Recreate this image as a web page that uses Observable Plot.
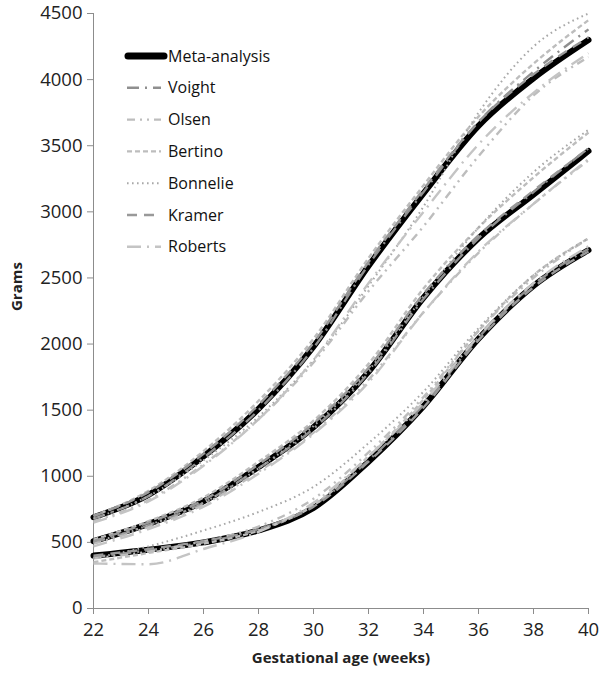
<!DOCTYPE html>
<html><head><meta charset="utf-8">
<script src="https://cdn.jsdelivr.net/npm/d3@7"></script>
<script src="https://cdn.jsdelivr.net/npm/@observablehq/plot@0.6"></script>
<style>
body{margin:0;background:#fff;}
#chart{position:relative;width:600px;height:673px;}
#chart svg{display:block}
#legend{position:absolute;left:0;top:0;pointer-events:none}
</style></head><body><div id="chart"></div>
<script>
// ---- data ----
const weeks = [22, 24, 26, 28, 30, 32, 34, 36, 38, 40];
const xTicks = [22, 24, 26, 28, 30, 32, 34, 36, 38, 40];
const yTicks = [0, 500, 1000, 1500, 2000, 2500, 3000, 3500, 4000, 4500];
const series = ["Meta-analysis", "Voight", "Olsen", "Bertino", "Bonnelie", "Kramer", "Roberts"];
const percentiles = ["p10", "p50", "p90"];

const metaP10 = [400, 445, 500, 590, 760, 1110, 1530, 2040, 2440, 2710];
const metaP50 = [510, 640, 810, 1070, 1370, 1790, 2350, 2800, 3130, 3460];
const metaP90 = [690, 860, 1150, 1510, 1980, 2590, 3140, 3650, 4010, 4300];

const voightP10 = [390, 440, 500, 600, 780, 1120, 1540, 2050, 2450, 2720];
const voightP50 = [500, 630, 800, 1060, 1360, 1780, 2340, 2800, 3150, 3480];
const voightP90 = [680, 850, 1140, 1500, 1970, 2600, 3150, 3680, 4060, 4380];

const olsenP10 = [380, 430, 510, 620, 830, 1180, 1600, 2100, 2500, 2800];
const olsenP50 = [490, 615, 785, 1035, 1330, 1730, 2240, 2690, 3060, 3390];
const olsenP90 = [660, 820, 1090, 1430, 1860, 2400, 2890, 3420, 3880, 4170];

const bertinoP10 = [350, 420, 490, 590, 780, 1150, 1580, 2100, 2520, 2800];
const bertinoP50 = [520, 660, 840, 1110, 1420, 1850, 2420, 2880, 3260, 3600];
const bertinoP90 = [700, 890, 1190, 1570, 2040, 2650, 3200, 3720, 4120, 4450];

const bonnelieP10 = [380, 470, 590, 730, 920, 1250, 1640, 2120, 2520, 2800];
const bonnelieP50 = [500, 630, 800, 1060, 1380, 1800, 2360, 2880, 3300, 3620];
const bonnelieP90 = [680, 850, 1120, 1450, 1880, 2440, 3040, 3750, 4250, 4500];

const kramerP10 = [400, 450, 510, 600, 770, 1110, 1520, 2030, 2430, 2700];
const kramerP50 = [510, 650, 820, 1090, 1400, 1820, 2380, 2820, 3160, 3480];
const kramerP90 = [700, 880, 1170, 1540, 2010, 2620, 3170, 3680, 4040, 4320];

const robertsP10 = [340, 335, 450, 580, 800, 1150, 1560, 2060, 2460, 2740];
const robertsP50 = [470, 600, 770, 1020, 1320, 1710, 2240, 2700, 3060, 3400];
const robertsP90 = [650, 810, 1080, 1430, 1880, 2460, 3000, 3510, 3900, 4200];

const values = {
  "Meta-analysis": [metaP10, metaP50, metaP90],
  "Voight": [voightP10, voightP50, voightP90],
  "Olsen": [olsenP10, olsenP50, olsenP90],
  "Bertino": [bertinoP10, bertinoP50, bertinoP90],
  "Bonnelie": [bonnelieP10, bonnelieP50, bonnelieP90],
  "Kramer": [kramerP10, kramerP50, kramerP90],
  "Roberts": [robertsP10, robertsP50, robertsP90]
};

// ---- styles ----
const styles = {
  "Meta-analysis": {stroke: "#000", width: 6, dash: null},
  "Voight": {stroke: "#8f8f8f", width: 2.4, dash: "12,6,2,6"},
  "Olsen": {stroke: "#bdbdbd", width: 2.4, dash: "8,5,2,5,2,5"},
  "Bertino": {stroke: "#bdbdbd", width: 2.4, dash: "5,3"},
  "Bonnelie": {stroke: "#a8a8a8", width: 2, dash: "1.6,3.4"},
  "Kramer": {stroke: "#999", width: 2.4, dash: "10,7"},
  "Roberts": {stroke: "#c4c4c4", width: 2.4, dash: "14,6,2,6"}
};

const rows = series.flatMap(s => percentiles.flatMap((p, pi) =>
  weeks.map((w, i) => ({series: s, pct: p, key: s + "-" + p, week: w, grams: values[s][pi][i]}))));

const lineMarks = series.map(s => Plot.line(rows.filter(d => d.series === s), {
  x: "week", y: "grams", z: "key", curve: "monotone-x",
  stroke: styles[s].stroke, strokeWidth: styles[s].width,
  strokeDasharray: styles[s].dash, strokeLinecap: s === "Meta-analysis" ? "round" : "butt"
}));

const font = "'Open Sans', 'DejaVu Sans', sans-serif";
const plot = Plot.plot({
  width: 600, height: 673,
  marginLeft: 93, marginRight: 12, marginTop: 13, marginBottom: 65,
  x: {domain: [22, 40]},
  y: {domain: [0, 4500]},
  style: {fontFamily: font, fontSize: "18.5px", color: "#222", background: "#fff"},
  marks: [
    Plot.axisX({ticks: xTicks, tickSize: 6, tickPadding: 8, label: null, stroke: "#8c8c8c", tickFormat: d3.format("d")}),
    Plot.axisY({ticks: yTicks, tickSize: 6, tickPadding: 5, label: null, stroke: "#8c8c8c", tickFormat: d3.format("d")}),
    Plot.ruleX([22], {stroke: "#8c8c8c"}),
    Plot.ruleY([0], {stroke: "#8c8c8c"}),
    ...lineMarks,
    Plot.text(["Gestational age (weeks)"], {frameAnchor: "bottom", dy: 54, fontWeight: "bold", fontSize: 15, fill: "#222"}),
    Plot.text(["Grams"], {frameAnchor: "left", dx: -76, rotate: -90, fontWeight: "bold", fontSize: 15, fill: "#222"})
  ]
});
const chart = document.getElementById("chart");
chart.appendChild(plot);

// ---- legend ----
const lg = d3.select(chart).append("svg").attr("id", "legend").attr("width", 600).attr("height", 300);
series.forEach((s, i) => {
  const y = 56 + i * 31.8;
  const st = styles[s];
  lg.append("line")
    .attr("x1", s === "Meta-analysis" ? 128 : 127).attr("x2", s === "Meta-analysis" ? 164 : 161)
    .attr("y1", y).attr("y2", y)
    .attr("stroke", st.stroke).attr("stroke-width", s === "Meta-analysis" ? 7 : st.width)
    .attr("stroke-linecap", s === "Meta-analysis" ? "round" : "butt")
    .attr("stroke-dasharray", st.dash);
  lg.append("text").attr("x", 168).attr("y", y).attr("dy", "0.35em")
    .attr("font-family", font).attr("font-size", 16).attr("fill", "#111").text(s);
});
</script></body></html>
